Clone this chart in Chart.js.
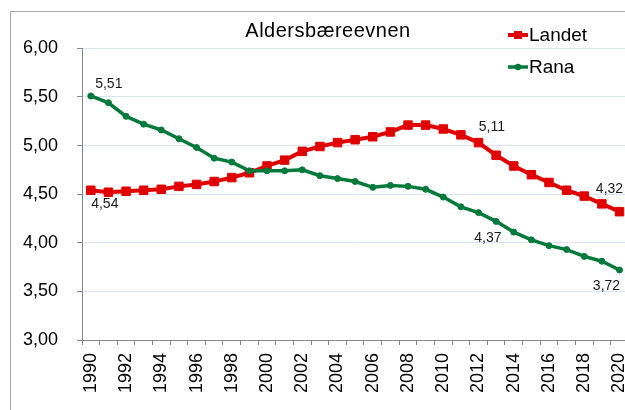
<!DOCTYPE html>
<html>
<head>
<meta charset="utf-8">
<script src="https://cdn.jsdelivr.net/npm/chart.js@4.4.1/dist/chart.umd.min.js"></script>
<style>
  html, body { margin: 0; padding: 0; background: #fff; overflow: hidden; }
  #wrap { position: absolute; left: 0; top: 0; width: 658px; height: 410px; }
</style>
</head>
<body>
<div id="wrap"><canvas id="c" width="658" height="410"></canvas></div>
<script>
// ---- data ----
const years = [1990,1991,1992,1993,1994,1995,1996,1997,1998,1999,2000,2001,2002,2003,2004,2005,2006,2007,2008,2009,2010,2011,2012,2013,2014,2015,2016,2017,2018,2019,2020];
const landet = [4.54,4.52,4.53,4.54,4.55,4.58,4.60,4.63,4.67,4.72,4.79,4.85,4.94,4.99,5.03,5.06,5.09,5.14,5.21,5.21,5.17,5.11,5.03,4.90,4.79,4.70,4.62,4.54,4.48,4.40,4.32];
const rana = [5.51,5.44,5.30,5.22,5.16,5.07,4.98,4.87,4.83,4.74,4.74,4.74,4.75,4.69,4.66,4.63,4.57,4.59,4.58,4.55,4.47,4.37,4.31,4.22,4.11,4.03,3.97,3.93,3.86,3.81,3.72];
const seriesNames = ['Landet', 'Rana'];
const chartTitle = 'Aldersbæreevnen';
const yMin = 3, yMax = 6, yStep = 0.5;

// labelled points: [datasetIndex, pointIndex]
const labelledPoints = [[1,0],[0,0],[0,21],[1,21],[0,30],[1,30]];
// label offsets (style only)
const labelOffsets = [[18,-12],[14,14],[31,-8],[27,31],[-10,-23],[-13,16]];

const RED = '#e00000';
const GREEN = '#007a3a';
const FONT = '"Liberation Sans", Arial, sans-serif';

const fmt = v => v.toFixed(2).replace('.', ',');

const frame = {
  id: 'frame',
  beforeDraw(chart) {
    const ctx = chart.ctx;
    ctx.save();
    ctx.fillStyle = '#fff';
    ctx.fillRect(0, 0, chart.width, chart.height);
    ctx.strokeStyle = '#a6a6a6';
    ctx.lineWidth = 1;
    ctx.strokeRect(10.5, 11.5, 800, 600);
    ctx.restore();
  }
};

const titlePlugin = {
  id: 'titlePlugin',
  afterDraw(chart) {
    const ctx = chart.ctx;
    ctx.save();
    ctx.font = '20px ' + FONT;
    if ('letterSpacing' in ctx) ctx.letterSpacing = '0.5px';
    ctx.fillStyle = '#000';
    ctx.textAlign = 'center';
    ctx.textBaseline = 'middle';
    ctx.fillText(chartTitle, 328, 31);
    ctx.restore();
  }
};

const pointLabels = {
  id: 'pointLabels',
  afterDatasetsDraw(chart) {
    const ctx = chart.ctx;
    ctx.save();
    ctx.font = '14px ' + FONT;
    ctx.fillStyle = '#1a1a1a';
    ctx.textAlign = 'center';
    ctx.textBaseline = 'middle';
    labelledPoints.forEach(([ds, i], k) => {
      const el = chart.getDatasetMeta(ds).data[i];
      const v = chart.data.datasets[ds].data[i];
      ctx.fillText(fmt(v), el.x + labelOffsets[k][0], el.y + labelOffsets[k][1]);
    });
    ctx.restore();
  }
};

const customLegend = {
  id: 'customLegend',
  afterDraw(chart) {
    const ctx = chart.ctx;
    ctx.save();
    const x0 = 508, rowY = [35, 67];
    chart.data.datasets.forEach((d, k) => {
      const y = rowY[k];
      ctx.strokeStyle = d.borderColor;
      ctx.lineWidth = k === 0 ? 4 : 3.5;
      ctx.beginPath();
      ctx.moveTo(x0, y);
      ctx.lineTo(x0 + 20, y);
      ctx.stroke();
      ctx.fillStyle = d.borderColor;
      if (k === 0) {
        ctx.fillRect(x0 + 6, y - 4, 8, 8);
      } else {
        ctx.beginPath();
        ctx.arc(x0 + 10, y, 3.2, 0, Math.PI * 2);
        ctx.fill();
      }
      ctx.fillStyle = '#000';
      ctx.font = '19px ' + FONT;
      ctx.textAlign = 'left';
      ctx.textBaseline = 'middle';
      ctx.fillText(d.label, x0 + 21, y + 1);
    });
    ctx.restore();
  }
};

new Chart(document.getElementById('c'), {
  type: 'line',
  data: {
    labels: years.map(String),
    datasets: [
      {
        label: seriesNames[0], data: landet,
        borderColor: RED, backgroundColor: RED,
        borderWidth: 4, tension: 0,
        pointStyle: 'rect', pointRadius: 6, pointBorderWidth: 1,
        pointBackgroundColor: RED, pointBorderColor: RED,
        order: 2
      },
      {
        label: seriesNames[1], data: rana,
        borderColor: GREEN, backgroundColor: GREEN,
        borderWidth: 3.5, tension: 0,
        pointStyle: 'circle', pointRadius: 3, pointBorderWidth: 1,
        pointBackgroundColor: GREEN, pointBorderColor: GREEN,
        order: 1
      }
    ]
  },
  options: {
    responsive: false,
    animation: false,
    devicePixelRatio: 1,
    layout: { padding: { left: 0, right: 29.7, top: 48.3, bottom: 0 } },
    plugins: {
      legend: { display: false },
      tooltip: { enabled: false },
      title: { display: false }
    },
    scales: {
      x: {
        type: 'category',
        offset: true,
        grid: {
          offset: true,
          drawOnChartArea: false,
          drawTicks: true,
          tickLength: 5,
          tickColor: '#868686',
          tickWidth: 1
        },
        border: { color: '#868686', width: 1 },
        ticks: {
          autoSkip: false,
          maxRotation: 90,
          minRotation: 90,
          padding: 8,
          color: '#000',
          font: { family: FONT, size: 18 },
          callback: function(val, idx) { return idx % 2 === 0 ? this.getLabelForValue(val) : ''; }
        },
        afterFit(scale) { scale.height = 70; }
      },
      y: {
        min: yMin, max: yMax,
        grid: {
          color: '#dbe3f1',
          lineWidth: 1,
          borderDash: [3, 3],
          drawTicks: true,
          tickLength: 5,
          tickColor: '#868686',
          tickBorderDash: [],
          tickWidth: 1
        },
        border: { color: '#868686', width: 1 },
        ticks: {
          stepSize: yStep,
          padding: 19,
          color: '#000',
          font: { family: FONT, size: 18 },
          callback: v => fmt(v)
        },
        afterFit(scale) { scale.width = 82; }
      }
    }
  },
  plugins: [frame, titlePlugin, pointLabels, customLegend]
});
</script>
</body>
</html>
